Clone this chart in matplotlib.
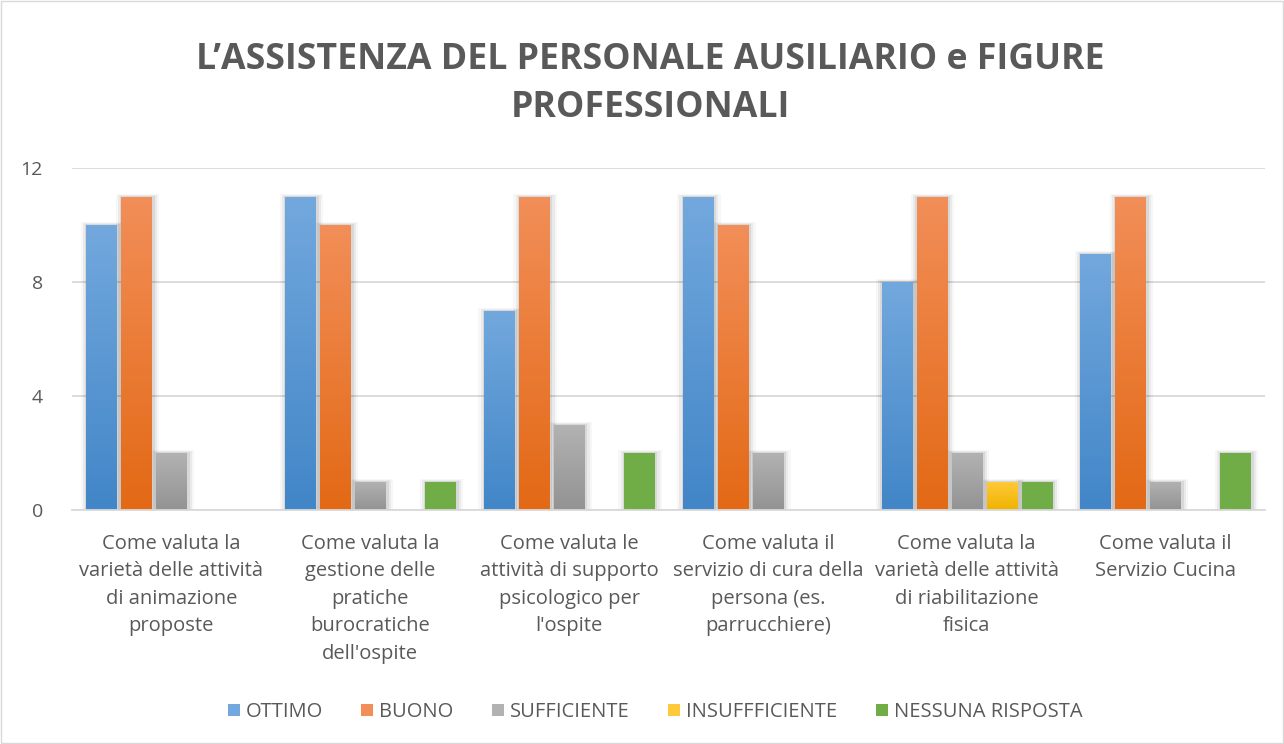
import matplotlib.pyplot as plt
import matplotlib.patches as mpatches
import numpy as np
from matplotlib.colors import LinearSegmentedColormap

categories = [
    "Come valuta la\nvarietà delle attività\ndi animazione\nproposte",
    "Come valuta la\ngestione delle\npratiche\nburocratiche\ndell'ospite",
    "Come valuta le\nattività di supporto\npsicologico per\nl'ospite",
    "Come valuta il\nservizio di cura della\npersona (es.\nparrucchiere)",
    "Come valuta la\nvarietà delle attività\ndi riabilitazione\nfisica",
    "Come valuta il\nServizio Cucina",
]
series_names = ["OTTIMO", "BUONO", "SUFFICIENTE", "INSUFFFICIENTE", "NESSUNA RISPOSTA"]
ottimo = [10, 11, 7, 11, 8, 9]
buono = [11, 10, 11, 10, 11, 11]
sufficiente = [2, 1, 3, 2, 2, 1]
insufficiente = [0, 0, 0, 0, 1, 0]
nessuna = [0, 1, 2, 0, 1, 2]
values = [ottimo, buono, sufficiente, insufficiente, nessuna]

# top / bottom gradient colours, Excel style
grads = [("#72a8dd", "#4286c8"),
         ("#f28e58", "#e36915"),
         ("#b2b2b2", "#939393"),
         ("#ffca3a", "#efb300"),
         ("#70ad47", "#70ad47")]

text_col = "#595959"
plt.rcParams['font.family'] = ['Open Sans', 'DejaVu Sans']

fig = plt.figure(figsize=(12.84, 7.44), dpi=100)
ax = fig.add_axes([72 / 1284, 1 - 510 / 744, (1265 - 72) / 1284, (510 - 168) / 744])

x = np.arange(len(categories))
width = 0.152
step = 0.176
for i, (name, vals) in enumerate(zip(series_names, values)):
    pos = x + (i - 2) * step
    bars = ax.bar(pos, vals, width, color=grads[i][1], label=name, zorder=3)
    cmap = LinearSegmentedColormap.from_list(name, [grads[i][1], grads[i][0]])
    for b in bars:
        h = b.get_height()
        if h <= 0:
            continue
        bx = b.get_x()
        # soft shadow
        for k, a in enumerate([0.07, 0.05, 0.03]):
            d = 0.011 * (k + 1)
            ax.add_patch(mpatches.Rectangle((bx - d + 0.005, -0.05), width + 2 * d, h + 0.05 + d * 3,
                                            color="#000000", alpha=a, lw=0, zorder=2))
        grad = np.linspace(0, 1, 100).reshape(-1, 1)
        im = ax.imshow(grad, extent=(bx, bx + width, 0, h), origin='lower', cmap=cmap,
                       aspect='auto', zorder=4)
        im.set_clip_path(b)

ax.set_xlim(-0.5, 5.5)
ax.set_ylim(0, 12)
ax.set_yticks([0, 4, 8, 12])
ax.yaxis.grid(True, color="#d9d9d9", lw=1.3, zorder=0)
ax.set_axisbelow(True)
for s in ["top", "right", "left"]:
    ax.spines[s].set_visible(False)
ax.spines["bottom"].set_color("#d9d9d9")
ax.spines["bottom"].set_linewidth(1.3)
ax.spines["bottom"].set_zorder(5)
ax.tick_params(axis='y', length=0, labelsize=14, labelcolor=text_col, pad=21)
ax.tick_params(axis='x', length=0, labelsize=14.5, labelcolor=text_col, pad=17)
ax.set_xticks(x)
ax.set_xticklabels(categories, linespacing=1.5)

fig.text(0.5 + 8 / 1284, 1 - 60 / 744, "L’ASSISTENZA DEL PERSONALE AUSILIARIO e FIGURE", ha='center', va='center',
         fontsize=25.7, fontweight='bold', color=text_col)
fig.text(0.5 + 8 / 1284, 1 - 108 / 744, "PROFESSIONALI", ha='center', va='center',
         fontsize=25.7, fontweight='bold', color=text_col)

handles = [mpatches.Patch(facecolor=grads[i][0], edgecolor='none') for i in range(5)]
fig.legend(handles, series_names, loc='center', bbox_to_anchor=(0.5 + 13 / 1284, 1 - 712 / 744), ncol=5,
           frameon=False, fontsize=14.5, labelcolor=text_col, handlelength=0.6, handleheight=0.6,
           handletextpad=0.3, columnspacing=1.9)

fig.add_artist(mpatches.Rectangle((0.001, 0.001), 0.998, 0.998, transform=fig.transFigure,
                                  fill=False, edgecolor="#d9d9d9", lw=1))

fig.savefig("out.png", dpi=100)
